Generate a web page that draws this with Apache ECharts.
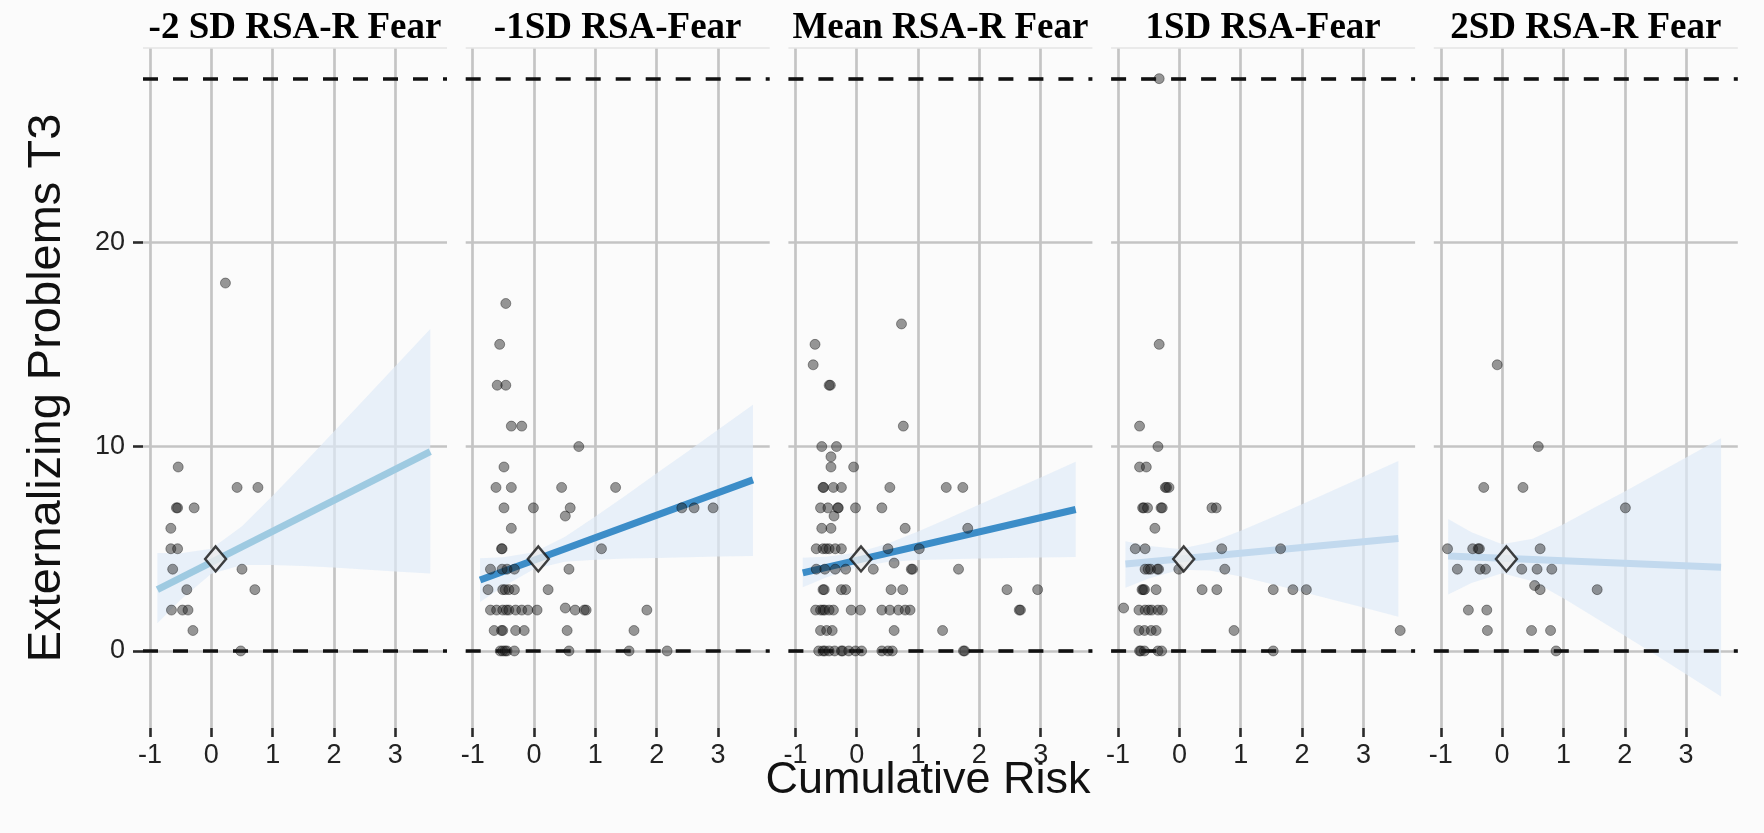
<!DOCTYPE html>
<html>
<head>
<meta charset="utf-8">
<script src="https://cdn.jsdelivr.net/npm/echarts@6/dist/echarts.min.js"></script>
<style>
  html, body { margin: 0; padding: 0; background: #fbfbfb; }
  #chart { width: 1764px; height: 833px; }
</style>
</head>
<body>
<div id="chart"></div>
<script>
// Facet titles (moderator levels)
const panelTitles = ['-2 SD RSA-R Fear', '-1SD RSA-Fear', 'Mean RSA-R Fear', '1SD RSA-Fear', '2SD RSA-R Fear'];

// Axis ticks
const xTicks = [-1, 0, 1, 2, 3];
const yTicks = [0, 10, 20];
const refLines = [0, 28];

// Mean point (diamond)
const meanX = 0.07;
const meanY = 4.5;

// Simple-slope fitted lines: end points at x = fitX
const fitX = [-0.88, 3.57];
const fitM2 = [3.0, 9.75];
const fitM1 = [3.47, 8.37];
const fitMean = [3.82, 6.92];
const fitP1 = [4.25, 5.5];
const fitP2 = [4.65, 4.1];

// Confidence bands
const bandX = [-0.88, -0.5, 0, 0.5, 1, 1.5, 2, 2.5, 3, 3.57];
const bandLoM2 = [1.35, 2.50, 3.78, 4.20, 4.21, 4.15, 4.08, 3.99, 3.89, 3.79];
const bandHiM2 = [4.79, 4.78, 5.00, 6.10, 7.59, 9.15, 10.74, 12.33, 13.93, 15.75];
const bandLoM1 = [2.39, 3.15, 4.01, 4.37, 4.46, 4.52, 4.55, 4.59, 4.62, 4.65];
const bandHiM1 = [4.53, 4.59, 4.83, 5.57, 6.58, 7.62, 8.69, 9.75, 10.82, 12.05];
const bandLoMean = [3.12, 3.59, 4.10, 4.35, 4.45, 4.49, 4.52, 4.55, 4.57, 4.60];
const bandHiMean = [4.56, 4.61, 4.80, 5.25, 5.85, 6.49, 7.16, 7.83, 8.49, 9.26];
const bandLoP1 = [3.09, 3.55, 3.97, 3.94, 3.64, 3.28, 2.90, 2.51, 2.12, 1.67];
const bandHiP1 = [5.37, 5.13, 4.99, 5.30, 5.88, 6.52, 7.18, 7.85, 8.52, 9.29];
const bandLoP2 = [2.76, 3.33, 3.80, 3.41, 2.58, 1.66, 0.74, -0.19, -1.14, -2.23];
const bandHiP2 = [6.46, 5.81, 5.22, 5.49, 6.20, 7.00, 7.80, 8.63, 9.46, 10.41];

// Observed points: Cumulative Risk (x) and Externalizing Problems T3 (y)
const ptsXM2 = [0.23, -0.54, -0.57, -0.55, -0.28, 0.42, 0.76, -0.66, -0.66, -0.55, -0.63, 0.50, -0.40, 0.71, -0.65, -0.47, -0.38, -0.30, 0.48];
const ptsYM2 = [18, 9, 7, 7, 7, 8, 8, 6, 5, 5, 4, 4, 3, 3, 2, 2, 2, 1, 0];

const ptsXM1 = [-0.46, -0.56, -0.60, -0.46, -0.37, -0.20, 0.73, -0.49, -0.62, -0.37, 0.45, 1.33, -0.49, -0.01, 0.59, 0.51, 2.41, 2.61, 2.92, -0.37,
  -0.53, -0.52, 1.10, -0.71, -0.52, -0.44, -0.32, 0.57, -0.75, -0.51, -0.47, -0.41, -0.32, 0.23, -0.71, -0.61, -0.51, -0.45, -0.41, -0.30,
  -0.20, -0.10, 0.05, 0.51, 0.67, 0.82, 0.85, 1.84, -0.65, -0.53, -0.51, -0.30, -0.16, 0.54, 1.63, -0.55, -0.51, -0.47, -0.44, -0.32,
  0.57, 1.55, 2.17];
const ptsYM1 = [17, 15, 13, 13, 11, 11, 10, 9, 8, 8, 8, 8, 7, 7, 7, 6.6, 7, 7, 7, 6,
  5, 5, 5, 4, 4, 4, 4, 4, 3, 3, 3, 3, 3, 3, 2, 2, 2, 2, 2, 2,
  2, 2, 2, 2.1, 2, 2, 2, 2, 1, 1, 1, 1, 1, 1, 1, 0, 0, 0, 0, 0,
  0, 0, 0];

const ptsXMean = [-0.68, -0.71, 0.73, -0.45, -0.43, 0.76, -0.57, -0.33, -0.42, -0.42, -0.05, -0.55, -0.54, -0.38, -0.25, 0.54, 1.46, 1.73, -0.59, -0.47,
  -0.31, -0.30, -0.02, 0.41, -0.37, -0.57, -0.42, 0.79, 1.81, -0.66, -0.55, -0.50, -0.45, -0.35, -0.25, 0.51, 1.02, -0.66, -0.52, -0.35,
  -0.18, 0.27, 0.61, 0.89, 0.91, 1.66, -0.55, -0.53, -0.25, -0.18, 0.56, 0.75, 2.45, 2.95, -0.67, -0.59, -0.55, -0.52, -0.45, -0.38,
  -0.09, 0.06, 0.41, 0.54, 0.68, 0.79, 0.87, 2.65, 2.67, -0.59, -0.49, -0.40, 0.61, 1.40, -0.62, -0.55, -0.52, -0.45, -0.36, -0.25,
  -0.23, -0.13, -0.02, 0.08, 0.41, 0.51, 0.58, 1.74, 1.76];
const ptsYMean = [15, 14, 16, 13, 13, 11, 10, 10, 9.5, 9, 9, 8, 8, 8, 8, 8, 8, 8, 7, 7,
  7, 7, 7, 7, 6.6, 6, 6, 6, 6, 5, 5, 5, 5, 5, 5, 5, 5, 4, 4, 4,
  4, 4, 4.3, 4, 4, 4, 3, 3, 3, 3, 3, 3, 3, 3, 2, 2, 2, 2, 2, 2,
  2, 2, 2, 2, 2, 2, 2, 2, 2, 1, 1, 1, 1, 1, 0, 0, 0, 0, 0, 0,
  0, 0, 0, 0, 0, 0, 0, 0, 0];

const ptsXP1 = [-0.33, -0.33, -0.65, -0.35, -0.65, -0.54, -0.23, -0.21, -0.17, -0.60, -0.58, -0.52, -0.30, -0.28, 0.53, 0.60, -0.40, -0.72, -0.56, 0.69,
  1.65, -0.56, -0.51, -0.47, -0.36, -0.34, -0.01, 0.74, -0.61, -0.59, -0.57, -0.38, 0.37, 0.61, 1.53, 1.85, 2.07, -0.91, -0.66, -0.56,
  -0.50, -0.45, -0.35, -0.28, -0.66, -0.57, -0.46, -0.38, 0.89, 3.60, -0.65, -0.63, -0.57, -0.35, -0.29, 1.53];
const ptsYP1 = [28, 15, 11, 10, 9, 9, 8, 8, 8, 7, 7, 7, 7, 7, 7, 7, 6, 5, 5, 5,
  5, 4, 4, 4, 4, 4, 4, 4, 3, 3, 3, 3, 3, 3, 3, 3, 3, 2.1, 2, 2,
  2, 2, 2, 2, 1, 1, 1, 1, 1, 1, 0, 0, 0, 0, 0, 0];

const ptsXP2 = [-0.08, 0.59, -0.30, 0.34, 2.01, -0.89, -0.48, -0.39, -0.37, 0.62, -0.73, -0.36, -0.27, 0.32, 0.57, 0.81, 0.53, 0.62, 1.55, -0.55,
  -0.25, -0.24, 0.48, 0.79, 0.88];
const ptsYP2 = [14, 10, 8, 8, 7, 5, 5, 5, 5, 5, 4, 4, 4, 4, 4, 4, 3.2, 3, 3, 2,
  2, 1, 1, 1, 0];

const panels = [
  { fit: fitM2, lo: bandLoM2, hi: bandHiM2, px: ptsXM2, py: ptsYM2, color: '#9ecae1' },
  { fit: fitM1, lo: bandLoM1, hi: bandHiM1, px: ptsXM1, py: ptsYM1, color: '#3c8dc8' },
  { fit: fitMean, lo: bandLoMean, hi: bandHiMean, px: ptsXMean, py: ptsYMean, color: '#3c8dc8' },
  { fit: fitP1, lo: bandLoP1, hi: bandHiP1, px: ptsXP1, py: ptsYP1, color: '#c2d9ee' },
  { fit: fitP2, lo: bandLoP2, hi: bandHiP2, px: ptsXP2, py: ptsYP2, color: '#c2d9ee' }
];

// Panel geometry
const LEFT0 = 143, STEP = 322.7, PW = 304, TOP = 48, PH = 680;
const X_MIN = -1.114, X_MAX = 3.843, Y_MIN = -3.77, Y_MAX = 29.5;
const SANS = '"Liberation Sans", Arial, Helvetica, sans-serif';
const SERIF = '"Liberation Serif", "Times New Roman", serif';
const TICK_STYLE = { color: '#2a2a2a', width: 2.6 };

const grids = [], xAxes = [], yAxes = [], series = [], graphics = [];

panels.forEach((p, i) => {
  const left = LEFT0 + STEP * i;
  grids.push({ left: left, top: TOP, width: PW, height: PH, containLabel: false });

  xAxes.push({
    gridIndex: i, type: 'value', min: X_MIN, max: X_MAX,
    axisLine: { show: true, onZero: false, lineStyle: { color: 'rgba(0,0,0,0)', width: 0 } },
    splitLine: { show: false },
    axisTick: { show: true, inside: false, customValues: xTicks, length: 9, lineStyle: TICK_STYLE },
    axisLabel: { customValues: xTicks, margin: 14, fontSize: 27, color: '#222', fontFamily: SANS }
  });
  yAxes.push({
    gridIndex: i, type: 'value', min: Y_MIN, max: Y_MAX,
    axisLine: { show: i === 0, onZero: false, lineStyle: { color: 'rgba(0,0,0,0)', width: 0 } },
    splitLine: { show: false },
    axisTick: { show: i === 0, inside: false, customValues: yTicks, length: 10, lineStyle: TICK_STYLE },
    axisLabel: { show: i === 0, customValues: yTicks, margin: 18, fontSize: 27, color: '#222', fontFamily: SANS }
  });

  // grid lines, plus a faint rule along the panel top
  series.push({
    type: 'line', xAxisIndex: i, yAxisIndex: i, data: [], symbol: 'none', silent: true,
    markLine: {
      silent: true, symbol: ['none', 'none'], z: 1, animation: false,
      label: { show: false },
      lineStyle: { color: '#c4c4c4', width: 2.7, type: 'solid' },
      data: xTicks.map(v => ({ xAxis: v }))
        .concat(yTicks.map(v => ({ yAxis: v })))
        .concat([{ yAxis: Y_MAX, lineStyle: { color: '#e4e4e4', width: 1.5, type: 'solid' } }])
    }
  });

  // confidence band
  const bandData = bandX.map((x, k) => [x, p.lo[k], p.hi[k]]);
  series.push({
    type: 'custom', xAxisIndex: i, yAxisIndex: i, z: 2, silent: true, clip: true,
    data: bandData,
    encode: { x: 0, y: [1, 2] },
    renderItem: function (params, api) {
      if (params.dataIndex !== 0) return null;
      const upper = bandData.map(d => api.coord([d[0], d[2]]));
      const lower = bandData.slice().reverse().map(d => api.coord([d[0], d[1]]));
      return {
        type: 'polygon',
        shape: { points: upper.concat(lower) },
        style: { fill: '#deebf7', opacity: 0.68 }
      };
    }
  });

  // dashed reference lines
  series.push({
    type: 'line', xAxisIndex: i, yAxisIndex: i, data: [], symbol: 'none', silent: true,
    markLine: {
      silent: true, symbol: ['none', 'none'], z: 3, animation: false,
      label: { show: false },
      lineStyle: { color: '#111', width: 3.6, type: [15, 15] },
      data: refLines.map(v => ({ yAxis: v }))
    }
  });

  // fitted simple slope
  series.push({
    type: 'line', xAxisIndex: i, yAxisIndex: i, z: 4, silent: true,
    data: fitX.map((x, k) => [x, p.fit[k]]),
    symbol: 'none', lineStyle: { color: p.color, width: 7, cap: 'butt' }
  });

  // observations
  series.push({
    type: 'scatter', xAxisIndex: i, yAxisIndex: i, z: 5, silent: true,
    data: p.px.map((x, k) => [x, p.py[k]]),
    symbol: 'circle', symbolSize: 10,
    itemStyle: { color: 'rgba(30,30,30,0.58)', borderColor: 'rgba(0,0,0,0.45)', borderWidth: 1 }
  });

  // mean diamond
  series.push({
    type: 'scatter', xAxisIndex: i, yAxisIndex: i, z: 6, silent: true,
    data: [[meanX, meanY]],
    symbol: 'diamond', symbolSize: [21, 25],
    itemStyle: { color: '#ececec', borderColor: '#111', borderWidth: 2.4 }
  });

  graphics.push({
    type: 'text', x: left + PW / 2, y: 28,
    style: { text: panelTitles[i], fontFamily: SERIF, fontWeight: 'bold', fontSize: 37, fill: '#000', align: 'center', verticalAlign: 'middle' }
  });
});

graphics.push({
  type: 'text', x: 47, y: TOP + PH / 2, rotation: Math.PI / 2,
  style: { text: 'Externalizing Problems T3', fontFamily: SANS, fontSize: 47, fill: '#111', align: 'center', verticalAlign: 'middle' }
});
graphics.push({
  type: 'text', x: 928, y: 781,
  style: { text: 'Cumulative Risk', fontFamily: SANS, fontSize: 45, fill: '#111', align: 'center', verticalAlign: 'middle' }
});

const chart = echarts.init(document.getElementById('chart'), null, { renderer: 'canvas' });
chart.setOption({
  backgroundColor: '#fbfbfb',
  animation: false,
  grid: grids,
  xAxis: xAxes,
  yAxis: yAxes,
  series: series,
  graphic: graphics
});
</script>
</body>
</html>
